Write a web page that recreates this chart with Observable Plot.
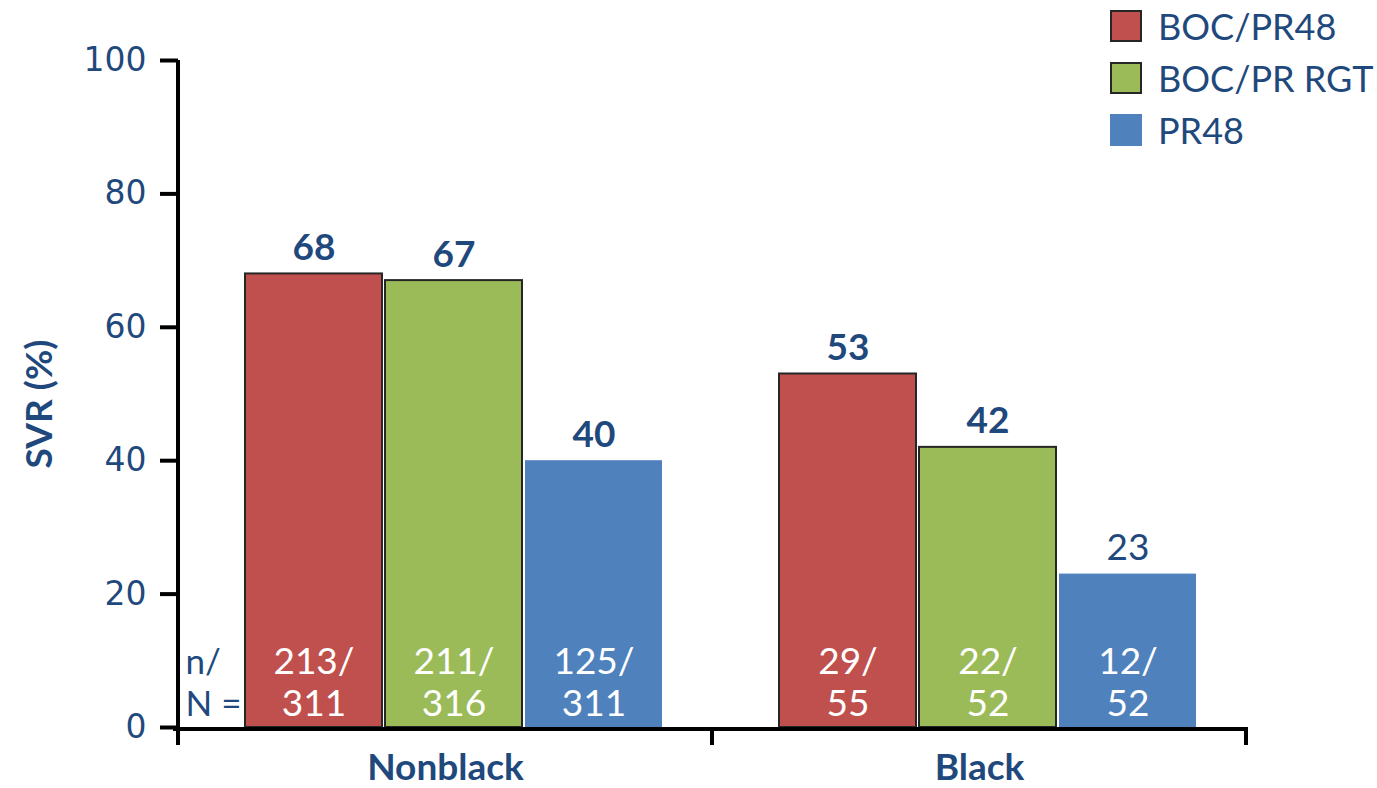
<!DOCTYPE html>
<html>
<head>
<meta charset="utf-8">
<script src="https://cdn.jsdelivr.net/npm/d3@7"></script>
<script src="https://cdn.jsdelivr.net/npm/@observablehq/plot@0.6"></script>
<style>
  body { margin: 0; background: #fff; }
  #wrap { position: relative; width: 1377px; height: 788px; }
  #legend { position: absolute; left: 1110px; top: 0; font-family: Lato, sans-serif; font-size: 36px; color: #1F497D; }
  #legend .item { display: flex; align-items: center; height: 52px; }
  #legend .sw { width: 32px; height: 32px; box-sizing: border-box; margin-right: 16px; }
</style>
</head>
<body>
<div id="wrap"><div id="legend"></div></div>
<script>
// Patient groups and treatment arms
const groups = ["Nonblack", "Black"];
const series = ["BOC/PR48", "BOC/PR RGT", "PR48"];
const colors = ["#C0504D", "#9BBB59", "#4F81BD"];

// SVR rates (%) per arm
const svrNonblack = [68, 67, 40];
const svrBlack = [53, 42, 23];

// Responders (n) and patients (N) per arm
const nNonblack = [213, 211, 125];
const totalNonblack = [311, 316, 311];
const nBlack = [29, 22, 12];
const totalBlack = [55, 52, 52];

const y_ticks = [0, 20, 40, 60, 80, 100];

const navy = "#1F497D";
const outlined = ["BOC/PR48", "BOC/PR RGT"];

const table = [
  [svrNonblack, nNonblack, totalNonblack],
  [svrBlack, nBlack, totalBlack]
];
const rows = groups.flatMap((g, i) =>
  series.map((s, j) => ({
    group: g,
    series: s,
    svr: table[i][0][j],
    n: table[i][1][j],
    N: table[i][2][j]
  }))
);
const plainLabel = (d) => d.group === "Black" && d.series === "PR48";

const chart = Plot.plot({
  width: 1377,
  height: 788,
  marginLeft: 178,
  marginRight: 131,
  marginTop: 60,
  marginBottom: 61,
  style: { fontFamily: "Lato, sans-serif", background: "white" },
  fx: { domain: groups, paddingInner: 0, paddingOuter: 0, label: null },
  x: { domain: series, paddingInner: 0.02, paddingOuter: 0.413, align: 0.57, axis: null },
  y: { domain: [0, 100], label: null },
  color: { domain: series, range: colors },
  marks: [
    Plot.barY(rows, { fx: "group", x: "series", y: "svr", fill: "series" }),
    Plot.barY(rows.filter((d) => outlined.includes(d.series)), {
      fx: "group", x: "series", y: "svr", fill: "series", stroke: "#262626", strokeWidth: 2
    }),
    // value above each bar
    Plot.text(rows.filter((d) => !plainLabel(d)), {
      fx: "group", x: "series", y: "svr", text: (d) => String(d.svr),
      lineAnchor: "bottom", dy: -14, fontSize: 37, fontWeight: "bold", fill: navy
    }),
    Plot.text(rows.filter(plainLabel), {
      fx: "group", x: "series", y: "svr", text: (d) => String(d.svr),
      lineAnchor: "bottom", dy: -14, fontSize: 37, fill: navy
    }),
    // n/N inside each bar
    Plot.text(rows, {
      fx: "group", x: "series", frameAnchor: "bottom", text: (d) => `${d.n}/\n${d.N}`,
      lineAnchor: "bottom", dy: -12, lineHeight: 1.12, fontSize: 37, fill: "white"
    }),
    Plot.text([groups[0]], {
      fx: (d) => d, frameAnchor: "bottom-left", textAnchor: "start", text: () => "n/\nN =",
      lineAnchor: "bottom", dx: 7, dy: -12, lineHeight: 1.18, fontSize: 35, fill: navy
    }),
    // y axis title
    Plot.text([groups[0]], {
      fx: (d) => d, frameAnchor: "left", rotate: -90, textAnchor: "middle", lineAnchor: "middle",
      text: () => "SVR (%)", dx: -138, dy: 10, fontSize: 37, fontWeight: "bold", fill: navy
    }),
    Plot.axisY({
      ticks: y_ticks, tickSize: 18, tickPadding: 14, strokeWidth: 4, stroke: "black",
      fill: navy, fontSize: 33, fontFamily: "DejaVu Sans", label: null
    }),
    Plot.axisFx({
      anchor: "bottom", tickSize: 0, tickPadding: 26, fontSize: 37, fontWeight: "bold",
      fill: navy, label: null
    })
  ]
});

document.getElementById("wrap").prepend(chart);

// Axis lines and group boundary ticks, placed with the chart's scales
const fxS = chart.scale("fx");
const yS = chart.scale("y");
const y0 = yS.apply(0);
const yTop = yS.apply(100);
const edges = groups.map((g) => fxS.apply(g));
edges.push(fxS.apply(groups[groups.length - 1]) + fxS.bandwidth);
const svg = d3.select(chart);
const axes = svg.append("g").attr("stroke", "black").attr("stroke-width", 4);
axes.append("line").attr("x1", edges[0]).attr("x2", edges[0]).attr("y1", yTop).attr("y2", y0 + 18);
axes.append("line").attr("x1", edges[0] - 5).attr("x2", edges[edges.length - 1] + 2).attr("y1", y0 + 2).attr("y2", y0 + 2);
edges.slice(1).forEach((e) => {
  axes.append("line").attr("x1", e).attr("x2", e).attr("y1", y0).attr("y2", y0 + 18);
});

// Legend
const legend = d3.select("#legend");
series.forEach((s, i) => {
  const item = legend.append("div").attr("class", "item");
  item.append("div").attr("class", "sw")
    .style("background", colors[i])
    .style("border", outlined.includes(s) ? "2px solid #262626" : "none");
  item.append("span").text(s);
});
</script>
</body>
</html>
